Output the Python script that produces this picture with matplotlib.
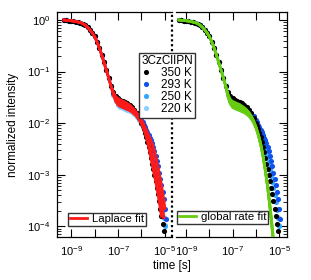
import numpy as np
import matplotlib.pyplot as plt
from matplotlib.ticker import FixedLocator, FuncFormatter, NullFormatter, LogLocator
from matplotlib.lines import Line2D

plt.rcParams['font.family'] = ['Liberation Sans', 'DejaVu Sans']
plt.rcParams['mathtext.fontset'] = 'custom'
plt.rcParams['mathtext.rm'] = 'Liberation Sans'
plt.rcParams['mathtext.it'] = 'Liberation Sans:italic'
plt.rcParams['font.size'] = 8.5

# time grid (log10 of seconds)
logt = [-9.3, -9.2, -9.1, -9.0, -8.9, -8.8, -8.7, -8.6, -8.5, -8.4, -8.3, -8.2,
        -8.1, -8.0, -7.9, -7.8, -7.7, -7.6, -7.5, -7.4, -7.3, -7.2, -7.1, -7.0,
        -6.9, -6.8, -6.7, -6.6, -6.5, -6.4, -6.3, -6.2, -6.1, -6.0,
        -5.95, -5.9, -5.85, -5.8, -5.75, -5.7, -5.65, -5.6, -5.55, -5.5, -5.45,
        -5.4, -5.35, -5.3, -5.25, -5.2, -5.15, -5.1, -5.05, -5.0, -4.95, -4.9]

# prompt part, same for all temperatures (log10 intensity)
prompt = [0.0, -0.005, -0.01, -0.015, -0.02, -0.03, -0.04, -0.05, -0.07, -0.10,
          -0.14, -0.19, -0.25, -0.32, -0.42, -0.54, -0.67, -0.82, -0.97, -1.12, -1.28]

logI_350 = prompt + [-1.40, -1.48, -1.52, -1.55, -1.57, -1.59, -1.62, -1.65, -1.69,
                     -1.74, -1.81, -1.90, -2.00,
                     -2.06, -2.12, -2.19, -2.27, -2.36, -2.46, -2.57, -2.68, -2.79,
                     -2.90, -3.01, -3.13, -3.25, -3.38, -3.52, -3.66, -3.81, -3.96, -4.10]
logI_293 = prompt + [-1.42, -1.52, -1.57, -1.60, -1.62, -1.64, -1.66, -1.68, -1.71,
                     -1.75, -1.80, -1.86, -1.94,
                     -1.98, -2.03, -2.08, -2.13, -2.18, -2.23, -2.28, -2.33, -2.39,
                     -2.46, -2.54, -2.63, -2.73, -2.84, -2.96, -3.08, -3.20, -3.33,
                     -3.48, -3.66, -3.86]
logI_250 = prompt + [-1.44, -1.55, -1.61, -1.64, -1.66, -1.68, -1.70, -1.72, -1.75,
                     -1.79, -1.84, -1.90, -1.98,
                     -2.03, -2.08, -2.14, -2.20, -2.27, -2.34, -2.42, -2.51, -2.60,
                     -2.70, -2.80, -2.91, -3.02, -3.14, -3.26, -3.39, -3.53, -3.68,
                     -3.84, -4.00]
logI_220 = prompt + [-1.46, -1.58, -1.65, -1.68, -1.70, -1.72, -1.74, -1.76, -1.79,
                     -1.83, -1.88, -1.94, -2.02,
                     -2.07, -2.12, -2.17, -2.23, -2.29, -2.36, -2.44, -2.52, -2.61,
                     -2.70, -2.80, -2.90, -3.01, -3.12, -3.24, -3.37, -3.51, -3.66,
                     -3.82, -3.98]

# global rate fit curves
logt_fit = [-9.3, -9.2, -9.1, -9.0, -8.9, -8.8, -8.7, -8.6, -8.5, -8.4, -8.3, -8.2,
            -8.1, -8.0, -7.9, -7.8, -7.7, -7.6, -7.5, -7.4, -7.3, -7.2, -7.1, -7.0,
            -6.9, -6.8, -6.7, -6.6, -6.5, -6.4, -6.3, -6.2, -6.1, -6.0, -5.9, -5.8,
            -5.7, -5.6, -5.5, -5.4, -5.3, -5.2]
glob_350 = prompt + [-1.44, -1.54, -1.58, -1.60, -1.62, -1.64, -1.67, -1.70, -1.74, -1.79,
                     -1.86, -1.95, -2.07, -2.22, -2.40, -2.63, -2.92, -3.26, -3.66, -4.10, -4.60]
glob_293 = prompt + [-1.46, -1.57, -1.62, -1.64, -1.66, -1.68, -1.70, -1.73, -1.77, -1.82,
                     -1.88, -1.97, -2.08, -2.22, -2.40, -2.63, -2.92, -3.25, -3.64, -4.08, -4.58]
glob_250 = prompt + [-1.48, -1.60, -1.66, -1.68, -1.70, -1.72, -1.74, -1.77, -1.80, -1.84,
                     -1.90, -1.98, -2.09, -2.23, -2.41, -2.63, -2.91, -3.23, -3.61, -4.05, -4.55]
glob_220 = prompt + [-1.50, -1.63, -1.70, -1.72, -1.74, -1.76, -1.78, -1.80, -1.83, -1.87,
                     -1.92, -2.00, -2.10, -2.24, -2.42, -2.64, -2.91, -3.22, -3.59, -4.02, -4.52]

temps = ['350 K', '293 K', '250 K', '220 K']
colors = ['#000000', '#1050ee', '#30a8ff', '#88d0ff']
data = [logI_350, logI_293, logI_250, logI_220]
glob = [glob_350, glob_293, glob_250, glob_220]

fig = plt.figure(figsize=(3.11, 2.8), dpi=100)
ax1 = fig.add_axes([57/311, 43/280, 115/311, 225/280])
ax2 = fig.add_axes([176/311, 43/280, 111/311, 225/280])

handles = {}
for ax in (ax1, ax2):
    # coldest first so 350 K ends up on top
    for lab, c, y in reversed(list(zip(temps, colors, data))):
        t = 10 ** np.array(logt[:len(y)])
        h, = ax.plot(t, 10 ** np.array(y), 'o', ms=3.7, color=c, mec='none', zorder=2)
        handles[lab] = h

red = '#ff1a1a'
for y in data:
    y = np.array(y)
    keep = y > -3.85
    ax1.plot(10 ** np.array(logt[:len(y)])[keep], 10 ** y[keep], color=red, lw=1.9,
             zorder=3)
green = '#66cc11'
for y in glob:
    ax2.plot(10 ** np.array(logt_fit), 10 ** np.array(y), color=green, lw=1.9, zorder=3)

def xfmt(v, pos):
    e = int(round(np.log10(v)))
    return r'$10^{%d}$' % e if e in (-9, -7, -5) else ''

for ax, xl in ((ax1, (10**-9.6, 10**-4.70)), (ax2, (10**-9.43, 10**-4.67))):
    ax.set_xscale('log')
    ax.set_yscale('log')
    ax.set_xlim(*xl)
    ax.set_ylim(10**-4.21, 10**0.155)
    ax.xaxis.set_major_locator(FixedLocator([1e-9, 1e-8, 1e-7, 1e-6, 1e-5]))
    ax.xaxis.set_major_formatter(FuncFormatter(xfmt))
    ax.xaxis.set_minor_locator(FixedLocator([]))
    ax.yaxis.set_major_locator(FixedLocator([1e0, 1e-1, 1e-2, 1e-3, 1e-4]))
    ax.yaxis.set_minor_locator(LogLocator(base=10, subs=np.arange(2, 10)))
    ax.yaxis.set_minor_formatter(NullFormatter())
    ax.tick_params(which='major', direction='in', length=6, width=0.8, labelsize=8,
                   top=True, pad=5)
    ax.tick_params(which='minor', direction='in', length=3, width=0.6)
    for s in ax.spines.values():
        s.set_linewidth(0.9)

ax1.yaxis.set_major_formatter(FuncFormatter(lambda v, p: r'$10^{%d}$' % int(round(np.log10(v)))))
ax1.tick_params(axis='y', which='both', left=True, right=False)
ax1.spines['right'].set_visible(False)
# dotted divider between the two panels
fig.add_artist(Line2D([172/311, 172/311], [43/280, 268/280], color='black', lw=1.6,
                      linestyle=(0, (1.0, 1.2)), transform=fig.transFigure))

ax2.spines['left'].set_visible(False)
ax2.tick_params(axis='y', which='both', left=False, right=True, labelleft=False)

ax1.set_ylabel('normalized intensity', fontsize=8.5, labelpad=6)
fig.text(172/311, 1 - 266/280, 'time [s]', ha='center', va='center', fontsize=8.5)

order = ['350 K', '293 K', '250 K', '220 K']
fig.legend([handles[k] for k in order], order, title='3CzClIPN', loc='upper left',
           bbox_to_anchor=(139/311, 1 - 53/280), fancybox=False, edgecolor='#333333',
           framealpha=1, fontsize=8.5, title_fontsize=8.5, handlelength=0.7,
           handletextpad=0.9, borderpad=0.2, labelspacing=0.0, borderaxespad=0)

ax1.legend([Line2D([], [], color=red, lw=2)], ['Laplace fit'], loc='lower left',
           bbox_to_anchor=(68/311, 1 - 226/280), bbox_transform=fig.transFigure,
           fancybox=False, edgecolor='#333333', framealpha=1, fontsize=8.2,
           handlelength=1.5, handletextpad=0.45, borderpad=0.15, borderaxespad=0)
ax2.legend([Line2D([], [], color=green, lw=2)], ['global rate fit'], loc='lower left',
           bbox_to_anchor=(177/311, 1 - 224/280), bbox_transform=fig.transFigure,
           fancybox=False, edgecolor='#333333', framealpha=1, fontsize=8.2,
           handlelength=1.5, handletextpad=0.45, borderpad=0.15, borderaxespad=0)

fig.savefig('out.png', dpi=100)
